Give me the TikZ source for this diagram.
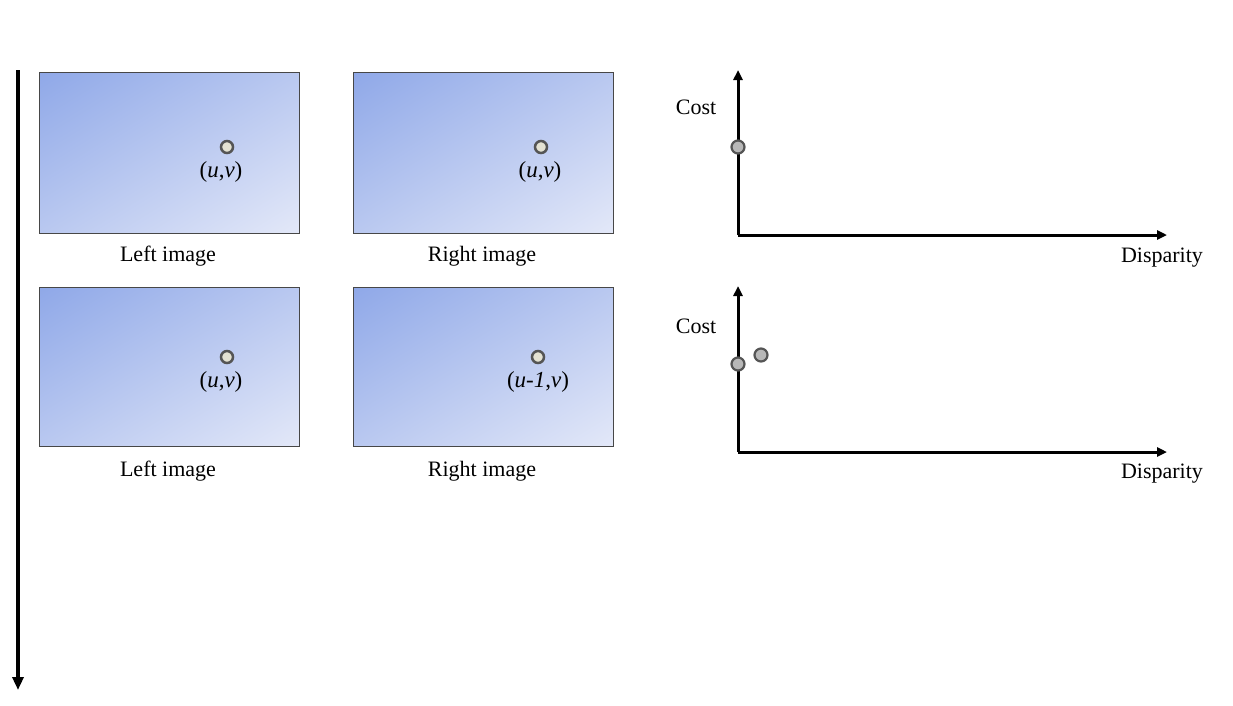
\documentclass[tikz,border=0pt]{standalone}
\usepackage{fontspec}
\setmainfont{Liberation Serif}
\usetikzlibrary{arrows.meta}
\definecolor{ptfill}{HTML}{E4E2D2}
\definecolor{axfill}{HTML}{B8B8B8}
\definecolor{ptdraw}{HTML}{555555}
\pgfdeclarefunctionalshading{imgsh}{\pgfpoint{0bp}{0bp}}{\pgfpoint{100bp}{100bp}}{}{
  sub 50 add 100 div
  dup 0 lt {pop 0} if
  dup 1 gt {pop 1} if
  dup dup
  0.063 mul 0.910 add
  3 1 roll
  0.251 mul 0.659 add
  exch
  0.329 mul 0.561 add
  3 1 roll
  exch
}
\tikzset{
  imgbox/.style={draw=black!72, line width=1pt, shading=imgsh, shading angle=0},
  imgpt/.style={circle, draw=ptdraw, fill=ptfill, line width=2.5pt, minimum size=12pt, inner sep=0pt},
  axpt/.style={circle, draw=ptdraw, fill=axfill, line width=2.2pt, minimum size=13pt, inner sep=0pt},
  lbl/.style={font=\fontsize{22}{26}\selectfont, inner sep=0pt},
  coord/.style={font=\fontsize{23}{27}\selectfont, inner sep=0pt},
  axis/.style={line width=3pt, -{Triangle[length=10pt,width=9pt]}},
}
\begin{document}
\begin{tikzpicture}[x=1pt,y=-1pt]
\useasboundingbox[fill=white] (0,0) rectangle (1233,705);
% time arrow
\coordinate (tA) at (18,70);
\coordinate (tB) at (18,690);
\draw[line width=3.5pt, -{Triangle[length=13pt,width=11pt]}] (tA) -- (tB);
% image boxes
\shade[imgbox] (39,72) rectangle (299,233);
\shade[imgbox] (353,72) rectangle (613,233);
\shade[imgbox] (39,287) rectangle (299,446);
\shade[imgbox] (353,287) rectangle (613,446);
% points in images
\node[imgpt] (p1) at (227,147) {};
\node[coord] (l1) at (221,172) {(\textit{u},\textit{v})};
\node[imgpt] (p2) at (541,147) {};
\node[coord] (l2) at (540,172) {(\textit{u},\textit{v})};
\node[imgpt] (p3) at (227,357) {};
\node[coord] (l3) at (221,382) {(\textit{u},\textit{v})};
\node[imgpt] (p4) at (538,357) {};
\node[coord] (l4) at (538,382) {(\textit{u-1},\textit{v})};
% captions
\node[lbl] (c1) at (168,256) {Left image};
\node[lbl] (c2) at (482,256) {Right image};
\node[lbl] (c3) at (168,471) {Left image};
\node[lbl] (c4) at (482,471) {Right image};
% plot 1
\coordinate (o1) at (738,235);
\coordinate (y1) at (738,70);
\coordinate (x1) at (1167,235);
\draw[axis] (o1) -- (y1);
\draw[axis] (o1) -- (x1);
\node[lbl] (cost1) at (696,107) {Cost};
\node[lbl] (disp1) at (1162,258) {Disparity};
\node[axpt] (q1) at (738,147) {};
% plot 2
\coordinate (o2) at (738,452);
\coordinate (y2) at (738,286);
\coordinate (x2) at (1167,452);
\draw[axis] (o2) -- (y2);
\draw[axis] (o2) -- (x2);
\node[lbl] (cost2) at (696,326) {Cost};
\node[lbl] (disp2) at (1162,474) {Disparity};
\node[axpt] (q2) at (738,364) {};
\node[axpt] (q3) at (761,355) {};
\end{tikzpicture}
\end{document}
